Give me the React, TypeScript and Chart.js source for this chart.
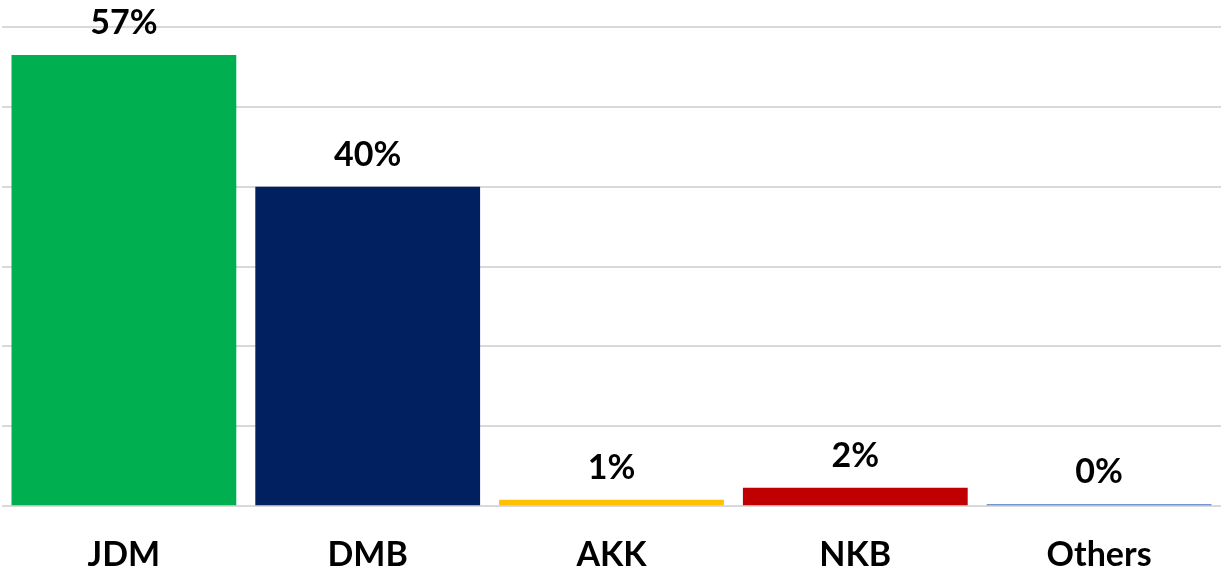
import React, { useEffect, useRef } from "react";
import { Chart, registerables } from "chart.js";

Chart.register(...registerables);

const categories = ["JDM", "DMB", "AKK", "NKB", "Others"];
const values = [56.5, 40, 0.8, 2.3, 0.25];
const valueLabels = ["57%", "40%", "1%", "2%", "0%"];
const barColors = ["#00B050", "#002060", "#FFC000", "#C00000", "#4472C4"];
const yMax = 60;
const yStep = 10;

const FONT = "Lato, 'Liberation Sans', sans-serif";

const labelPlugin = {
  id: "valueLabels",
  afterDatasetsDraw(chart: any) {
    const ctx = chart.ctx;
    const meta = chart.getDatasetMeta(0);
    ctx.save();
    ctx.font = `bold 34px ${FONT}`;
    ctx.fillStyle = "#000000";
    ctx.textAlign = "center";
    ctx.textBaseline = "alphabetic";
    meta.data.forEach((bar: any, i: number) => {
      ctx.fillText(valueLabels[i], bar.x, bar.y - 21);
    });
    ctx.restore();
  },
};

export default function App() {
  const ref = useRef<HTMLCanvasElement>(null);
  useEffect(() => {
    document.body.style.margin = "0";
    const chart = new Chart(ref.current!, {
      type: "bar",
      data: {
        labels: categories,
        datasets: [
          {
            data: values,
            backgroundColor: barColors,
            borderWidth: 0,
            categoryPercentage: 1,
            barPercentage: 0.922,
          },
        ],
      },
      options: {
        animation: false,
        responsive: true,
        maintainAspectRatio: false,
        layout: { padding: { top: 27, left: 2, right: 0, bottom: 0 } },
        plugins: {
          legend: { display: false },
          tooltip: { enabled: false },
        },
        scales: {
          x: {
            grid: { display: false, drawTicks: false },
            border: { display: false },
            ticks: {
              color: "#000000",
              font: { family: FONT, size: 34, weight: "bold" },
              padding: 28,
            },
          },
          y: {
            min: 0,
            max: yMax,
            ticks: { display: false, stepSize: yStep },
            grid: { color: "#D9D9D9", lineWidth: 2, drawTicks: false },
            border: { display: false },
          },
        },
      },
      plugins: [labelPlugin],
    });
    return () => chart.destroy();
  }, []);
  return (
    <div style={{ width: 1221, height: 574, overflow: "hidden" }}>
      <div style={{ position: "relative", width: 1221, height: 603 }}>
        <canvas ref={ref} />
      </div>
    </div>
  );
}
